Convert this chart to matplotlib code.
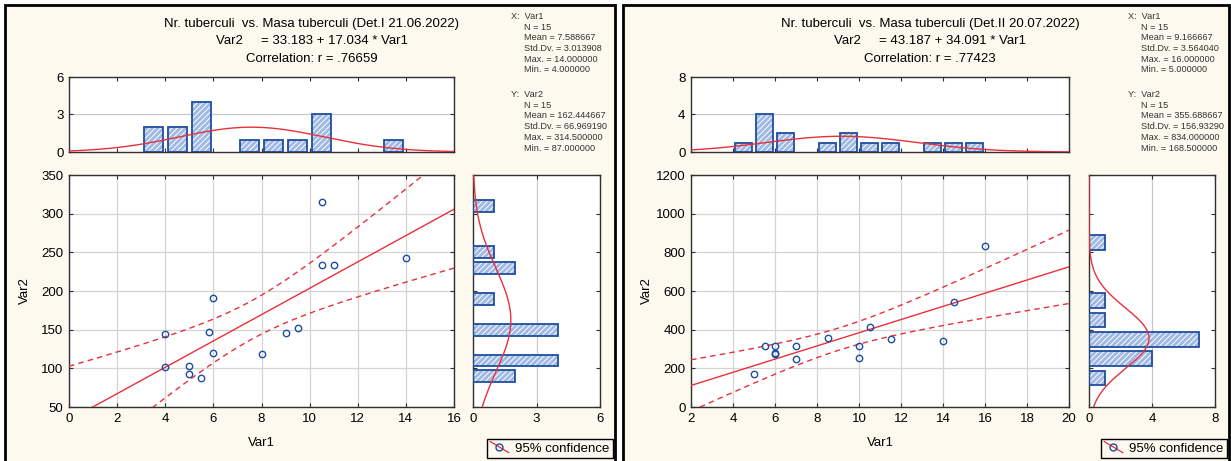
import numpy as np
import matplotlib
matplotlib.use('Agg')
import matplotlib.pyplot as plt
from matplotlib.patches import Rectangle
from matplotlib.lines import Line2D
from matplotlib.legend_handler import HandlerBase

plt.rcParams['font.family'] = ['Liberation Sans', 'DejaVu Sans']
plt.rcParams['hatch.linewidth'] = 0.7

W, H = 1231, 461
BEIGE = '#fdf9ee'
BLUE = '#1f4e9e'
BARFILL = '#9fb9e4'
RED = '#e8303a'

# ---------------- data : panel 1 ----------------
p1_var1 = [4, 4, 5, 5, 5.5, 5.8, 6, 6, 8, 9, 9.5, 10.5, 10.5, 11, 14]
p1_var2 = [145, 102, 103.5, 92.5, 87, 147, 191, 120, 119, 146, 152, 314.5, 234, 234, 243]
p1_title = 'Nr. tuberculi  vs. Masa tuberculi (Det.I 21.06.2022)'
p1_eq = 'Var2     = 33.183 + 17.034 * Var1'
p1_corr = 'Correlation: r = .76659'
p1_intercept, p1_slope, p1_r = 33.183, 17.034, 0.76659
p1_xmean, p1_xsd = 7.588667, 3.013908
p1_ymean, p1_ysd = 162.444667, 66.969190
p1_stats_x = ['N = 15', 'Mean = 7.588667', 'Std.Dv. = 3.013908', 'Max. = 14.000000', 'Min. = 4.000000']
p1_stats_y = ['N = 15', 'Mean = 162.444667', 'Std.Dv. = 66.969190', 'Max. = 314.500000', 'Min. = 87.000000']
p1_xticks = [0, 2, 4, 6, 8, 10, 12, 14, 16]
p1_yticks = [50, 100, 150, 200, 250, 300, 350]
p1_hist_ticks = [0, 3, 6]
p1_xbins = np.arange(0, 17, 1)
p1_ybins = np.arange(40, 361, 20)

# ---------------- data : panel 2 ----------------
p2_var1 = [5, 5.5, 6, 6, 6, 7, 7, 8.5, 10, 10, 10.5, 11.5, 14, 14.5, 16]
p2_var2 = [168.5, 314, 314, 280, 274, 317, 250, 357, 314, 255, 414, 352, 341, 541, 834]
p2_title = 'Nr. tuberculi  vs. Masa tuberculi (Det.II 20.07.2022)'
p2_eq = 'Var2     = 43.187 + 34.091 * Var1'
p2_corr = 'Correlation: r = .77423'
p2_intercept, p2_slope, p2_r = 43.187, 34.091, 0.77423
p2_xmean, p2_xsd = 9.166667, 3.564040
p2_ymean, p2_ysd = 355.688667, 156.93290
p2_stats_x = ['N = 15', 'Mean = 9.166667', 'Std.Dv. = 3.564040', 'Max. = 16.000000', 'Min. = 5.000000']
p2_stats_y = ['N = 15', 'Mean = 355.688667', 'Std.Dv. = 156.93290', 'Max. = 834.000000', 'Min. = 168.500000']
p2_xticks = [2, 4, 6, 8, 10, 12, 14, 16, 18, 20]
p2_yticks = [0, 200, 400, 600, 800, 1000, 1200]
p2_hist_ticks = [0, 4, 8]
p2_xbins = np.arange(2, 21, 1)
p2_ybins = np.arange(0, 1201, 100)

T_975_13 = 2.160


def rect(l, t, r, b):
    return [l / W, 1 - b / H, (r - l) / W, (b - t) / H]


def hist_rc(vals, edges):
    v = np.asarray(vals, float)
    return np.array([np.sum((v > lo) & (v <= hi)) for lo, hi in zip(edges[:-1], edges[1:])])


def normal(x, m, s):
    return np.exp(-0.5 * ((x - m) / s) ** 2) / (s * np.sqrt(2 * np.pi))


class DiagHandler(HandlerBase):
    def create_artists(self, legend, orig_handle, xdescent, ydescent, width, height, fontsize, trans):
        l = Line2D([0, width], [height * 1.1, -height * 0.1], color=RED, lw=0.9, transform=trans)
        m = Line2D([width * 0.5], [height * 0.5], marker='o', mfc='none', mec=BLUE, mew=1.0,
                   ls='none', ms=5, transform=trans)
        return [l, m]


def style_spines(ax):
    for s in ax.spines.values():
        s.set_color('#303030')
        s.set_linewidth(1.0)


def draw_bars_v(ax, centers, counts, width):
    m = counts > 0
    ax.bar(centers[m], counts[m], width=width, color=BARFILL, edgecolor='white', hatch='//////', lw=0, zorder=2)
    ax.bar(centers[m], counts[m], width=width, fill=False, edgecolor=BLUE, lw=1.3, zorder=3)


def draw_bars_h(ax, centers, counts, height):
    m = counts > 0
    ax.barh(centers[m], counts[m], height=height, color=BARFILL, edgecolor='white', hatch='//////', lw=0, zorder=2)
    ax.barh(centers[m], counts[m], height=height, fill=False, edgecolor=BLUE, lw=1.3, zorder=3)


fig = plt.figure(figsize=(W / 100, H / 100), dpi=100)
fig.patch.set_facecolor('white')


def panel(off, pl, pr, var1, var2, title, eq, corr, a, b, r, xm, xs, ym, ys,
          stx, sty, xticks, yticks, hticks, xbins, ybins, main_lr, marg_lr, stats_x0):
    panel_rect = Rectangle(((pl) / W, 0 - 2 / H), (pr - pl) / W, (H - 5 + 2) / H, transform=fig.transFigure,
                           facecolor=BEIGE, edgecolor='black', lw=2, zorder=0)
    fig.add_artist(panel_rect)
    n = len(var1)
    ml, mr = main_lr
    gl, gr = marg_lr
    xlim = (xticks[0], xticks[-1])
    ylim = (yticks[0], yticks[-1])

    # main scatter
    ax = fig.add_axes(rect(ml, 175, mr, 407))
    ax.set_facecolor('white')
    ax.set_xlim(*xlim)
    ax.set_ylim(*ylim)
    ax.set_xticks(xticks)
    ax.set_yticks(yticks)
    ax.grid(True, color='#d4d4d4', lw=0.9, zorder=0)
    ax.set_axisbelow(True)
    ax.tick_params(direction='in', length=3, top=True, right=True, labelsize=9.5, pad=4, color='#303030')
    style_spines(ax)
    xx = np.linspace(xlim[0], xlim[1], 300)
    yhat = a + b * xx
    s_res = ys * np.sqrt(1 - r ** 2) * np.sqrt((n - 1) / (n - 2))
    sxx = xs ** 2 * (n - 1)
    hw = T_975_13 * s_res * np.sqrt(1.0 / n + (xx - xm) ** 2 / sxx)
    ax.plot(xx, yhat, color=RED, lw=1.0, zorder=3)
    ax.plot(xx, yhat + hw, color=RED, lw=1.0, ls=(0, (4, 3)), zorder=3)
    ax.plot(xx, yhat - hw, color=RED, lw=1.0, ls=(0, (4, 3)), zorder=3)
    ax.plot(var1, var2, ls='none', marker='o', mfc='none', mec=BLUE, mew=1.0, ms=4.6, zorder=4)

    # top histogram
    axt = fig.add_axes(rect(ml, 77, mr, 152))
    axt.set_facecolor('white')
    cx = hist_rc(var1, xbins)
    bwx = xbins[1] - xbins[0]
    draw_bars_v(axt, (xbins[:-1] + xbins[1:]) / 2, cx, 0.78 * bwx)
    axt.plot(xx, normal(xx, xm, xs) * n * bwx, color=RED, lw=1.0, zorder=4)
    axt.set_xlim(*xlim)
    axt.set_ylim(hticks[0], hticks[-1])
    axt.set_xticks(xticks)
    axt.set_yticks(hticks)
    axt.axhline(hticks[1], color='#c8c8c8', lw=0.9, zorder=1)
    axt.tick_params(direction='in', length=3, top=True, right=True, labelbottom=False,
                    labelsize=9.5, pad=4, color='#303030')
    style_spines(axt)

    # marginal histogram
    axm = fig.add_axes(rect(gl, 175, gr, 407))
    axm.set_facecolor('white')
    cy = hist_rc(var2, ybins)
    bwy = ybins[1] - ybins[0]
    draw_bars_h(axm, (ybins[:-1] + ybins[1:]) / 2, cy, 0.76 * bwy)
    yy = np.linspace(ylim[0], ylim[1], 300)
    axm.plot(normal(yy, ym, ys) * n * bwy, yy, color=RED, lw=1.0, zorder=4)
    axm.set_ylim(*ylim)
    axm.set_xlim(hticks[0], hticks[-1])
    axm.set_xticks(hticks)
    axm.set_yticks(yticks)
    axm.axvline(hticks[1], color='#c8c8c8', lw=0.9, zorder=1)
    axm.tick_params(direction='in', length=3, top=True, right=True, labelleft=False,
                    labelsize=9.5, pad=4, color='#303030')
    style_spines(axm)

    # titles
    cxp = (ml + mr) / 2 + 50
    fig.text(cxp / W, 1 - 24 / H, title, ha='center', va='center', fontsize=9.5)
    fig.text(cxp / W, 1 - 41.5 / H, eq, ha='center', va='center', fontsize=9.5)
    fig.text(cxp / W, 1 - 58.5 / H, corr, ha='center', va='center', fontsize=9.5)

    # axis labels
    fig.text(((ml + mr) / 2) / W, 1 - 443 / H, 'Var1', ha='center', va='center', fontsize=9.5)
    fig.text((ml - 44.5) / W, 1 - 291 / H, 'Var2', ha='center', va='center', fontsize=9.5, rotation=90)

    # stats
    x0 = stats_x0
    sp = 10.7
    for grp, (hdr, lines, y0) in enumerate([('X:  Var1', stx, 16.5), ('Y:  Var2', sty, 94.5)]):
        t = fig.text(x0 / W, 1 - y0 / H, hdr, ha='left', va='center', fontsize=6.6, color='#333333')
        t.set_clip_path(panel_rect)
        for i, s in enumerate(lines):
            t = fig.text((x0 + 13) / W, 1 - (y0 + sp * (i + 1)) / H, s, ha='left', va='center',
                         fontsize=6.6, color='#333333')
            t.set_clip_path(panel_rect)

    # legend
    h = Line2D([], [], color=RED)
    leg = fig.legend(handles=[h], labels=['95% confidence'], loc='lower right',
                     bbox_to_anchor=((pr - 2) / W, 1 - 458 / H), frameon=True, fancybox=False,
                     edgecolor='black', facecolor=BEIGE, framealpha=1, fontsize=9.5,
                     handler_map={Line2D: DiagHandler()}, handlelength=1.4, handletextpad=0.5,
                     borderpad=0.25, borderaxespad=0)
    leg.get_frame().set_linewidth(1.0)


panel(0, 5, 615, p1_var1, p1_var2, p1_title, p1_eq, p1_corr, p1_intercept, p1_slope, p1_r,
      p1_xmean, p1_xsd, p1_ymean, p1_ysd, p1_stats_x, p1_stats_y, p1_xticks, p1_yticks,
      p1_hist_ticks, p1_xbins, p1_ybins, (69, 454), (473, 600), 511)
panel(1, 623, 1229, p2_var1, p2_var2, p2_title, p2_eq, p2_corr, p2_intercept, p2_slope, p2_r,
      p2_xmean, p2_xsd, p2_ymean, p2_ysd, p2_stats_x, p2_stats_y, p2_xticks, p2_yticks,
      p2_hist_ticks, p2_xbins, p2_ybins, (691, 1069), (1089, 1215), 1128)

fig.savefig('out.png', dpi=100, facecolor='white')
